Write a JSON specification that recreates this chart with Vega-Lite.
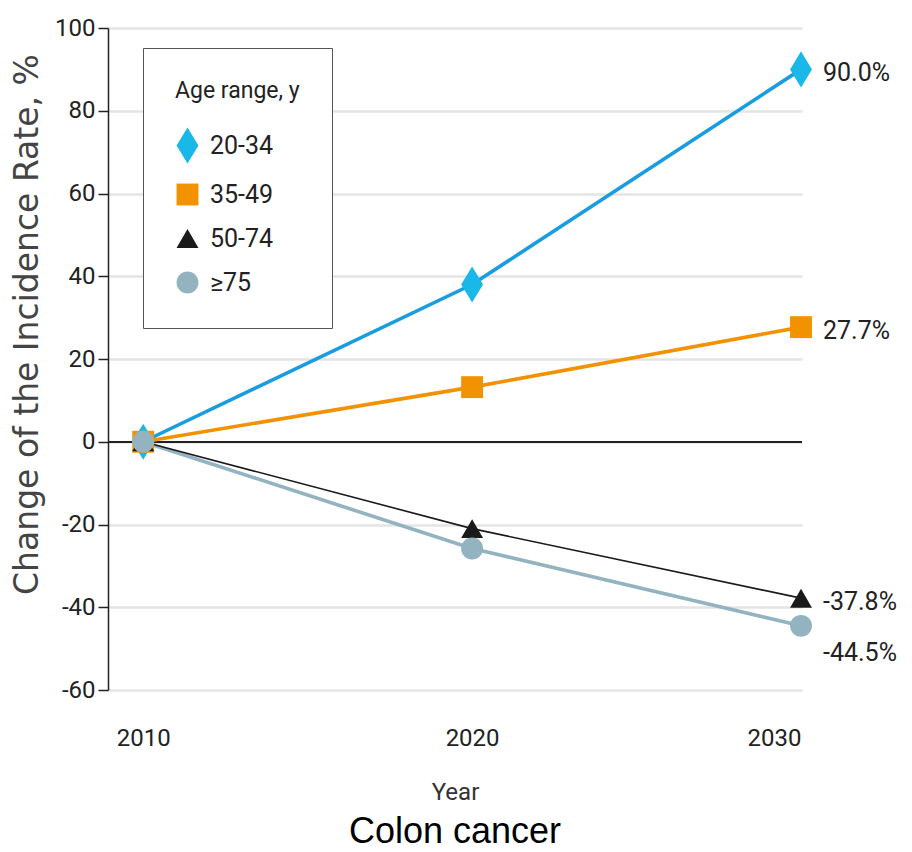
{
  "$schema": "https://vega.github.io/schema/vega-lite/v6.json",
  "autosize": {"type": "none"},
  "width": 694,
  "height": 662,
  "padding": {"left": 108, "top": 28, "right": 110, "bottom": 162},
  "background": "white",
  "title": {"text": "Colon cancer", "orient": "bottom", "anchor": "middle", "font": "Liberation Sans", "fontSize": 36, "fontWeight": "normal", "color": "#000", "offset": 11},
  "config": {
    "view": {"stroke": null},
    "axis": {"labelFont": "Roboto", "titleFont": "Roboto", "labelColor": "#222", "titleColor": "#333", "titleFontWeight": "normal"},
    "legend": {"orient": "none", "legendX": 35, "legendY": 20, "titleFont": "Roboto", "titleFontSize": 23, "titleFontWeight": "normal", "titleColor": "#222", "titlePadding": 30,
      "labelFont": "Roboto", "labelFontSize": 25, "labelColor": "#222", "symbolSize": 480, "symbolStrokeWidth": 0, "rowPadding": 18, "padding": 32, "strokeColor": "#555", "fillColor": "white", "labelOffset": 10}
  },
  "data": {"values": [
    {"age": "20-34", "year": 2010, "value": 0, "label": ""},
    {"age": "20-34", "year": 2020, "value": 38.0, "label": ""},
    {"age": "20-34", "year": 2030, "value": 90.0, "label": "90.0%"},
    {"age": "35-49", "year": 2010, "value": 0, "label": ""},
    {"age": "35-49", "year": 2020, "value": 13.2, "label": ""},
    {"age": "35-49", "year": 2030, "value": 27.7, "label": "27.7%"},
    {"age": "50-74", "year": 2010, "value": 0, "label": ""},
    {"age": "50-74", "year": 2020, "value": -21.0, "label": ""},
    {"age": "50-74", "year": 2030, "value": -37.8, "label": "-37.8%"},
    {"age": "≥75", "year": 2010, "value": 0, "label": ""},
    {"age": "≥75", "year": 2020, "value": -25.8, "label": ""},
    {"age": "≥75", "year": 2030, "value": -44.5, "label": "-44.5%"}
  ]},
  "encoding": {
    "x": {"field": "year", "type": "quantitative", "scale": {"domain": [2008.93, 2030.03], "nice": false, "zero": false},
      "axis": {"values": [2010, 2020, 2030], "format": "d", "grid": false, "domain": false, "ticks": false, "labelPadding": 36, "labelFontSize": 24, "title": "Year", "titleFontSize": 24, "titlePadding": 30}},
    "y": {"field": "value", "type": "quantitative", "scale": {"domain": [-60, 100], "nice": false},
      "axis": {"values": [-60, -40, -20, 0, 20, 40, 60, 80, 100], "labelExpr": "replace(format(datum.value, 'd'), '−', '-')", "grid": true, "gridColor": "#e4e4e4", "gridWidth": 2.5, "domainColor": "#222", "domainWidth": 1.5, "tickColor": "#222", "tickWidth": 1.5, "tickSize": 10, "labelPadding": 3, "labelFontSize": 24,
        "title": "Change of the Incidence Rate, %", "titleFont": "DejaVu Sans", "titleFontSize": 33, "titleX": -64, "titleY": 296, "titleColor": "#444"}}
  },
  "layer": [
    {"mark": {"type": "rule", "color": "#222", "strokeWidth": 1.5}, "encoding": {"y": {"datum": 0}, "x": null}},
    {"transform": [{"filter": "datum.age != '50-74'"}],
      "mark": {"type": "line", "strokeWidth": 3.6},
      "encoding": {
        "stroke": {"field": "age", "type": "nominal", "title": "Age range, y", "scale": {"domain": ["20-34", "35-49", "50-74", "≥75"], "range": ["#1a9ce0", "#f39200", "#1a1a1a", "#94b3c0"]}},
        "order": {"field": "year"}
      }},
    {"transform": [{"filter": "datum.age == '50-74'"}],
      "mark": {"type": "line", "strokeWidth": 1.6},
      "encoding": {
        "stroke": {"field": "age", "type": "nominal", "title": "Age range, y", "scale": {"domain": ["20-34", "35-49", "50-74", "≥75"], "range": ["#1a9ce0", "#f39200", "#1a1a1a", "#94b3c0"]}},
        "order": {"field": "year"}
      }},
    {"mark": {"type": "point", "filled": true, "opacity": 1, "size": 480, "strokeWidth": 0},
      "encoding": {
        "fill": {"field": "age", "type": "nominal", "title": "Age range, y", "scale": {"domain": ["20-34", "35-49", "50-74", "≥75"], "range": ["#1ab8e8", "#f39200", "#1a1a1a", "#94b3c0"]}},
        "shape": {"field": "age", "type": "nominal", "title": "Age range, y", "scale": {"domain": ["20-34", "35-49", "50-74", "≥75"], "range": ["M0,-1.65L1.0,0L0,1.65L-1.0,0Z", "square", "triangle-up", "circle"]}}
      }},
    {"transform": [{"filter": "datum.label != '' && datum.age != '≥75'"}],
      "mark": {"type": "text", "align": "left", "baseline": "middle", "dx": 22, "dy": 4, "fontSize": 25, "font": "Roboto", "color": "#222"},
      "encoding": {"text": {"field": "label"}}},
    {"transform": [{"filter": "datum.label != '' && datum.age == '≥75'"}],
      "mark": {"type": "text", "align": "left", "baseline": "middle", "dx": 22, "dy": 27, "fontSize": 25, "font": "Roboto", "color": "#222"},
      "encoding": {"text": {"field": "label"}}}
  ]
}
